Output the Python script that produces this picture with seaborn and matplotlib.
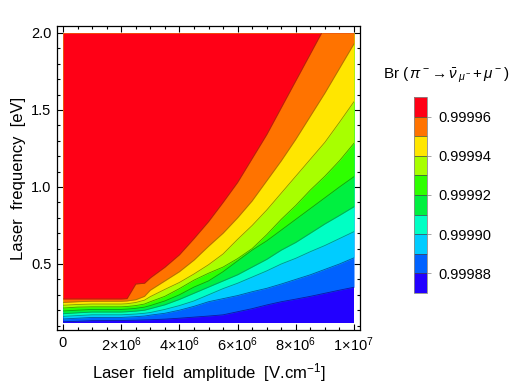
import numpy as np
import matplotlib
matplotlib.use("Agg")
import matplotlib.pyplot as plt
import seaborn as sns
from matplotlib.colors import ListedColormap, BoundaryNorm, to_rgb
from matplotlib.patches import Rectangle
from matplotlib.ticker import FixedLocator, MultipleLocator, FuncFormatter
import matplotlib.cm as cm

# laser field amplitude samples (units of 1e6 V/cm)
field = [0, 0.5, 1, 2, 2.2, 2.5, 2.8, 3, 3.5, 4, 4.5, 5, 5.5, 6, 6.5, 7, 7.5, 8, 8.5, 9, 9.5, 10]

# laser frequency (eV) where Br crosses each contour level
br_0_99988 = [0.125, 0.128, 0.132, 0.133, 0.134, 0.135, 0.137, 0.138, 0.142, 0.148, 0.155,
              0.162, 0.170, 0.190, 0.210, 0.234, 0.255, 0.272, 0.290, 0.310, 0.330, 0.349]
br_0_99989 = [0.143, 0.148, 0.153, 0.153, 0.155, 0.158, 0.162, 0.168, 0.180, 0.200, 0.225,
              0.255, 0.275, 0.295, 0.320, 0.342, 0.370, 0.400, 0.430, 0.465, 0.500, 0.540]
br_0_99990 = [0.160, 0.165, 0.170, 0.170, 0.172, 0.175, 0.180, 0.185, 0.205, 0.230, 0.260,
              0.300, 0.340, 0.375, 0.415, 0.455, 0.500, 0.537, 0.580, 0.620, 0.665, 0.710]
br_0_99991 = [0.177, 0.183, 0.188, 0.188, 0.190, 0.194, 0.200, 0.210, 0.235, 0.270, 0.310,
              0.350, 0.390, 0.430, 0.480, 0.530, 0.590, 0.640, 0.700, 0.760, 0.815, 0.872]
br_0_99992 = [0.195, 0.200, 0.205, 0.205, 0.207, 0.212, 0.220, 0.230, 0.260, 0.300, 0.350,
              0.390, 0.450, 0.520, 0.590, 0.650, 0.720, 0.790, 0.860, 0.930, 1.000, 1.067]
br_0_99993 = [0.214, 0.220, 0.222, 0.222, 0.224, 0.230, 0.240, 0.255, 0.290, 0.340, 0.395,
              0.440, 0.480, 0.535, 0.600, 0.690, 0.790, 0.880, 0.980, 1.070, 1.170, 1.284]
br_0_99994 = [0.232, 0.237, 0.240, 0.240, 0.242, 0.250, 0.265, 0.288, 0.335, 0.380, 0.435,
              0.495, 0.565, 0.660, 0.750, 0.850, 0.960, 1.070, 1.180, 1.290, 1.420, 1.554]
br_0_99995 = [0.250, 0.255, 0.258, 0.258, 0.260, 0.268, 0.290, 0.330, 0.390, 0.450, 0.525,
              0.615, 0.700, 0.800, 0.910, 1.040, 1.170, 1.310, 1.460, 1.610, 1.770, 1.930]
br_0_99996 = [0.273, 0.273, 0.273, 0.273, 0.275, 0.370, 0.375, 0.410, 0.479, 0.560, 0.665,
              0.775, 0.900, 1.030, 1.185, 1.340, 1.515, 1.690, 1.865, 2.040, 2.210, 2.380]

levels = [0.99987, 0.99988, 0.99989, 0.99990, 0.99991, 0.99992,
          0.99993, 0.99994, 0.99995, 0.99996, 0.99997]
cbar_ticks = [0.99988, 0.99990, 0.99992, 0.99994, 0.99996]
freq_min, freq_max = 0.12, 2.0

band_colors = ["#2200ff", "#0062ff", "#00ccff", "#00ffc4", "#00f040",
               "#2eff00", "#a8ff00", "#ffe600", "#ff7300", "#ff0016"]

sns.set_style("ticks")
plt.rcParams["font.family"] = ["Liberation Sans", "DejaVu Sans"]
plt.rcParams["mathtext.fontset"] = "custom"
plt.rcParams["mathtext.rm"] = "Liberation Sans"
plt.rcParams["mathtext.it"] = "Liberation Sans:italic"
plt.rcParams["mathtext.bf"] = "Liberation Sans:bold"
plt.rcParams["text.color"] = "black"
plt.rcParams["axes.labelcolor"] = "black"
plt.rcParams["xtick.color"] = "black"
plt.rcParams["ytick.color"] = "black"

fig = plt.figure(figsize=(5.14, 3.84), dpi=100)
ax = fig.add_axes([57 / 514, 54 / 384, 303 / 514, 304 / 384])

x = np.array(field) * 1e6
bounds = [br_0_99988, br_0_99989, br_0_99990, br_0_99991, br_0_99992,
          br_0_99993, br_0_99994, br_0_99995, br_0_99996]
clip = Rectangle((0, freq_min), 1e7, freq_max - freq_min, transform=ax.transData)

# paint bands bottom-up, each one up to the top so no seams appear
lowers = [np.full(len(x), freq_min)] + [np.array(b) for b in bounds]
for lower, col in zip(lowers, band_colors):
    poly = ax.fill_between(x, lower, freq_max, color=col, lw=0, zorder=1)
    poly.set_clip_path(clip)

# thin contour lines, a darker shade of the band below
for b, col in zip(bounds, band_colors[:-1]):
    dark = tuple(c * 0.55 for c in to_rgb(col))
    ln, = ax.plot(x, b, color=dark, lw=0.6, alpha=0.8, zorder=2)
    ln.set_clip_path(clip)

ax.set_xlim(-0.206e6, 10.206e6)
ax.set_ylim(0.0714, 2.045)


def sci_fmt(v, pos):
    if v == 0:
        return "0"
    e = int(np.floor(np.log10(v) + 1e-9))
    m = int(round(v / 10 ** e))
    return r"$%d\!\times\!10^{%d}$" % (m, e)


ax.xaxis.set_major_locator(FixedLocator([0, 2e6, 4e6, 6e6, 8e6, 1e7]))
ax.xaxis.set_minor_locator(MultipleLocator(0.5e6))
ax.xaxis.set_major_formatter(FuncFormatter(sci_fmt))
ax.yaxis.set_major_locator(FixedLocator([0.5, 1.0, 1.5, 2.0]))
ax.yaxis.set_minor_locator(MultipleLocator(0.1))
ax.yaxis.set_major_formatter(FuncFormatter(lambda v, p: "%.1f" % v))
ax.tick_params(which="both", direction="in", top=True, right=True,
               labelsize=10.5, color="black", width=0.8)
ax.tick_params(which="major", length=4, pad=4)
ax.tick_params(which="minor", length=2.5)
for s in ax.spines.values():
    s.set_linewidth(0.9)
    s.set_color("black")

ax.set_xlabel(r"Laser  field  amplitude  [V.cm$^{-1}$]", fontsize=12, labelpad=5)
ax.set_ylabel("Laser  frequency  [eV]", fontsize=12, labelpad=4)

# legend bar
cax = fig.add_axes([414 / 514, 91 / 384, 13 / 514, 196 / 384])
cmap = ListedColormap(band_colors)
norm = BoundaryNorm(levels, cmap.N)
cb = fig.colorbar(cm.ScalarMappable(norm=norm, cmap=cmap), cax=cax,
                  ticks=cbar_ticks, drawedges=True)
cb.ax.yaxis.set_major_formatter(FuncFormatter(lambda v, p: "%.5f" % v))
cb.ax.tick_params(length=3, width=0.6, color="#999999", labelsize=10.5, pad=5)
cb.outline.set_edgecolor("#888888")
cb.outline.set_linewidth(0.6)
cb.dividers.set_color("#444444")
cb.dividers.set_linewidth(0.5)
cb.ax.minorticks_off()

fig.text(383 / 514, 1 - 75 / 384,
         r"Br $(\,\pi^-\!\rightarrow\bar{\nu}_{\,\mu^-}\!+\mu^-)$",
         fontsize=11, ha="left", va="center")

fig.savefig("out.png", dpi=100, facecolor="white")
